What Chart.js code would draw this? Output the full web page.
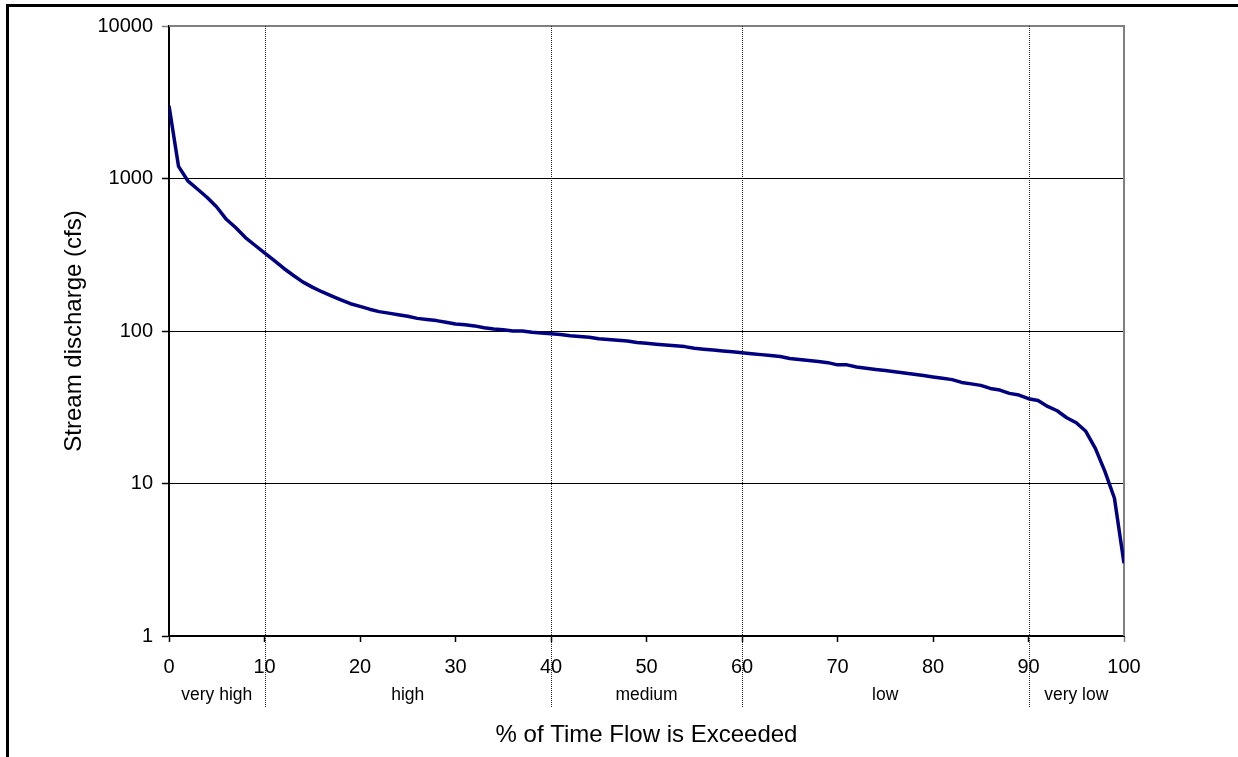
<!DOCTYPE html>
<html>
<head>
<meta charset="utf-8">
<style>
html,body{margin:0;padding:0;background:#fff;overflow:hidden}
canvas{display:block}
</style>
<script src="https://cdn.jsdelivr.net/npm/chart.js@4/dist/chart.umd.min.js"></script>
</head>
<body>
<canvas id="c" width="1238" height="757"></canvas>
<script>
// ---- data ----
const exceedancePct = [0,1,2,3,4,5,6,7,8,9,10,11,12,13,14,15,16,17,18,19,20,
  21,22,23,24,25,26,27,28,29,30,31,32,33,34,35,36,37,38,39,40,
  41,42,43,44,45,46,47,48,49,50,51,52,53,54,55,56,57,58,59,60,
  61,62,63,64,65,66,67,68,69,70,71,72,73,74,75,76,77,78,79,80,
  81,82,83,84,85,86,87,88,89,90,91,92,93,94,95,96,97,98,99,100];
const dischargeCfs = [3000,1200,960,850,750,650,540,475,410,365,325,
  290,258,232,210,194,181,170,160,151,145,
  139,134,131,128,125,121,119,117,114,111,
  110,108,105,103,102,100,100,98,97,96,
  95,93,92,91,89,88,87,86,84,83,
  82,81,80,79,77,76,75,74,73,72,
  71,70,69,68,66,65,64,63,62,60,
  60,58,57,56,55,54,53,52,51,50,
  49,48,46,45,44,42,41,39,38,36,
  35,32,30,27,25,22,17,12,8,3];
const yTickValues = [1,10,100,1000,10000];
const xTickStep = 10;
const flowClassBounds = [0,10,40,60,90,100];
const flowClassNames = ['very high','high','medium','low','very low'];
const yTitleText = 'Stream discharge (cfs)';
const xTitleText = '% of Time Flow is Exceeded';

// ---- styling ----
const FONT = "'Liberation Sans', Arial, Helvetica, sans-serif";

const framePlugin = {
  id: 'frame',
  beforeDatasetsDraw(chart) {
    const {ctx, chartArea: a, scales: {x}} = chart;
    ctx.save();
    // grey top & right plot border
    ctx.strokeStyle = '#808080';
    ctx.lineWidth = 2;
    ctx.beginPath();
    ctx.moveTo(a.left, a.top);
    ctx.lineTo(a.right, a.top);
    ctx.lineTo(a.right, a.bottom);
    ctx.stroke();
    // dotted class dividers
    ctx.strokeStyle = '#222';
    ctx.lineWidth = 1;
    ctx.setLineDash([1, 1]);
    flowClassBounds.slice(1, -1).forEach(b => {
      const px = Math.round(x.getPixelForValue(b)) + 0.5;
      ctx.beginPath();
      ctx.moveTo(px, a.top);
      ctx.lineTo(px, a.bottom + 72);
      ctx.stroke();
    });
    ctx.setLineDash([]);
    // class names
    ctx.fillStyle = '#000';
    ctx.font = '17.5px ' + FONT;
    ctx.textAlign = 'center';
    ctx.textBaseline = 'middle';
    flowClassNames.forEach((n, i) => {
      const mid = (flowClassBounds[i] + flowClassBounds[i + 1]) / 2;
      ctx.fillText(n, x.getPixelForValue(mid), a.bottom + 59);
    });
    ctx.restore();
  },
  afterDraw(chart) {
    const {ctx, width, height} = chart;
    ctx.save();
    ctx.strokeStyle = '#000';
    ctx.lineWidth = 3;
    ctx.beginPath();
    ctx.moveTo(7.5, height);
    ctx.lineTo(7.5, 5.5);
    ctx.lineTo(width, 5.5);
    ctx.stroke();
    ctx.restore();
  }
};

new Chart(document.getElementById('c'), {
  type: 'line',
  data: {
    datasets: [{
      data: exceedancePct.map((p, i) => ({x: p, y: dischargeCfs[i]})),
      borderColor: '#000080',
      borderWidth: 3.5,
      pointRadius: 0,
      tension: 0,
      fill: false,
      borderJoinStyle: 'round'
    }]
  },
  options: {
    responsive: false,
    animation: false,
    devicePixelRatio: 1,
    layout: {padding: {left: 0, top: 26, right: 114, bottom: 0}},
    plugins: {legend: {display: false}, tooltip: {enabled: false}},
    scales: {
      x: {
        type: 'linear',
        min: 0, max: 100,
        ticks: {stepSize: xTickStep, color: '#000', font: {family: FONT, size: 20}, padding: 13, maxRotation: 0, autoSkip: false},
        grid: {drawOnChartArea: false, drawTicks: true, tickLength: 6, tickColor: c => (c.tick && c.tick.value === 100) ? '#808080' : '#000', tickWidth: 1.5},
        border: {color: '#000', width: 2},
        title: {display: true, text: xTitleText, color: '#000', font: {family: FONT, size: 24}, padding: {top: 0, bottom: 7.6}},
        afterFit(s) { s.height = 121; }
      },
      y: {
        type: 'logarithmic',
        min: 1, max: 10000,
        afterBuildTicks(s) { s.ticks = yTickValues.map(v => ({value: v})); },
        ticks: {callback: v => String(v), color: '#000', font: {family: FONT, size: 20}, padding: 9},
        grid: {
          color: c => (c.tick && (c.tick.value === 10000 || c.tick.value === 1)) ? 'rgba(0,0,0,0)' : '#000',
          lineWidth: 1,
          tickLength: 7,
          tickColor: c => (c.tick && c.tick.value === 10000) ? '#808080' : '#000',
          tickWidth: 1.5
        },
        border: {color: '#000', width: 2},
        title: {display: true, text: yTitleText, color: '#000', font: {family: FONT, size: 24}, padding: {top: 60.3, bottom: 0}},
        afterFit(s) { s.width = 169; }
      }
    }
  },
  plugins: [framePlugin]
});
</script>
</body>
</html>
